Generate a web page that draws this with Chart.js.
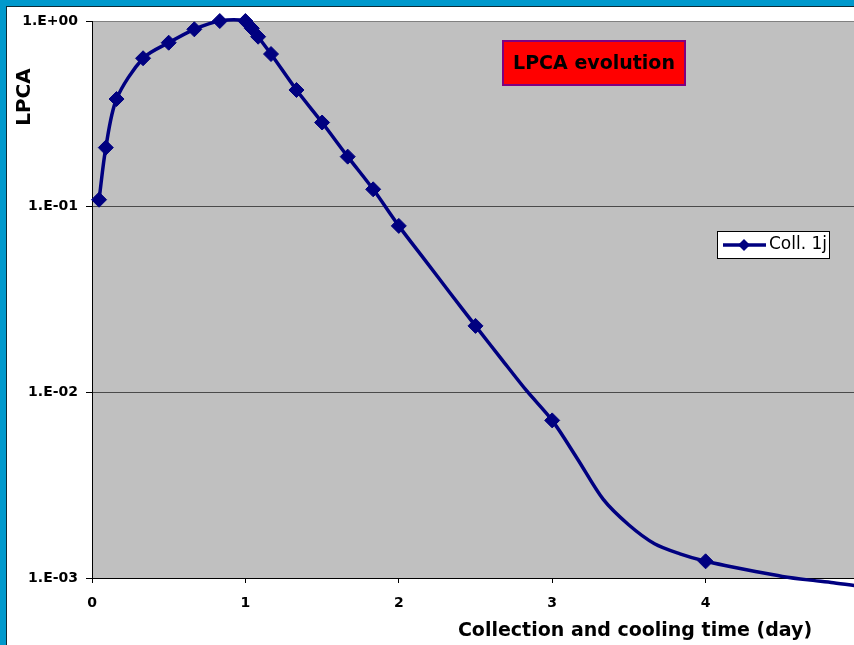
<!DOCTYPE html>
<html>
<head>
<meta charset="utf-8">
<title>LPCA evolution</title>
<script src="https://cdn.jsdelivr.net/npm/chart.js@4/dist/chart.umd.min.js"></script>
<style>
  html, body { margin: 0; padding: 0; }
  body { width: 854px; height: 645px; overflow: hidden; background: #0099cc; position: relative; }
  #sheet { position: absolute; left: 6px; top: 6px; width: 900px; height: 700px; background: #ffffff;
           border-left: 1px solid #0b2b36; border-top: 1px solid #0b2b36; }
  #chart { position: absolute; left: 0; top: 0; }
</style>
</head>
<body>
<div id="sheet"></div>
<canvas id="chart" width="880" height="645"></canvas>
<script>
// Collection and cooling time (days) and the LPCA level at each time
const timeDays = [0.046, 0.09, 0.16, 0.333, 0.5, 0.667, 0.833, 1.0, 1.042, 1.083, 1.167, 1.333,
  1.5, 1.667, 1.833, 2.0, 2.167, 2.333, 2.5, 2.667, 2.833, 3.0, 3.167, 3.333, 3.5, 3.667,
  3.833, 4.0, 4.167, 4.333, 4.5, 4.667, 4.833, 5.0];
const lpcaValues = [0.109, 0.208, 0.380, 0.630, 0.764, 0.902, 1.0, 1.0, 0.913, 0.823, 0.664, 0.425,
  0.284, 0.186, 0.124, 0.0788, 0.0520, 0.0344, 0.0228, 0.0152, 0.0102, 0.00706, 0.00435, 0.00265,
  0.00193, 0.00153, 0.00135, 0.00123, 0.00115, 0.00108, 0.00102, 0.000977, 0.000944, 0.000904];
// Times that carry a sample marker on the curve
const sampleDays = [0.046, 0.09, 0.16, 0.333, 0.5, 0.667, 0.833, 1.0, 1.042, 1.083, 1.167, 1.333,
  1.5, 1.667, 1.833, 2.0, 2.5, 3.0, 4.0];

const yTickValues = [0.001, 0.01, 0.1, 1];
const yTickLabels = ['1.E-03', '1.E-02', '1.E-01', '1.E+00'];
const xTickValues = [0, 1, 2, 3, 4, 5];

const seriesName = 'Coll. 1j';
const chartTitle = 'LPCA evolution';
const xTitle = 'Collection and cooling time (day)';
const yTitle = 'LPCA';

const NAVY = '#000080';
const tickFont = { family: 'DejaVu Sans', size: 14, weight: 'bold' };

const points = timeDays.map((t, i) => ({ x: t, y: lpcaValues[i] }));

// Grey plot background
const plotBackground = {
  id: 'plotBackground',
  beforeDraw(chart) {
    const { ctx, chartArea: a } = chart;
    ctx.save();
    ctx.fillStyle = '#c0c0c0';
    ctx.fillRect(a.left, a.top, a.right - a.left, a.bottom - a.top);
    ctx.restore();
  }
};

// Axis titles, the boxed chart title and the legend box
const decorations = {
  id: 'decorations',
  afterDraw(chart) {
    const { ctx } = chart;
    ctx.save();

    // y axis title
    ctx.fillStyle = '#000';
    ctx.font = 'bold 20px "DejaVu Sans"';
    ctx.textAlign = 'center';
    ctx.textBaseline = 'middle';
    ctx.save();
    ctx.translate(25, 97);
    ctx.rotate(-Math.PI / 2);
    ctx.fillText(yTitle, 0, 0);
    ctx.restore();

    // x axis title
    ctx.font = 'bold 19px "DejaVu Sans"';
    ctx.fillText(xTitle, 635, 631);

    // boxed title
    ctx.fillStyle = '#ff0000';
    ctx.fillRect(503, 41, 182, 44);
    ctx.strokeStyle = '#800080';
    ctx.lineWidth = 2;
    ctx.strokeRect(503, 41, 182, 44);
    ctx.fillStyle = '#000';
    ctx.font = 'bold 19px "DejaVu Sans"';
    ctx.fillText(chartTitle, 594, 64);

    // legend
    ctx.fillStyle = '#ffffff';
    ctx.fillRect(717.5, 231.5, 112, 27);
    ctx.strokeStyle = '#000';
    ctx.lineWidth = 1;
    ctx.strokeRect(717.5, 231.5, 112, 27);
    ctx.strokeStyle = NAVY;
    ctx.lineWidth = 3.5;
    ctx.beginPath();
    ctx.moveTo(723, 245);
    ctx.lineTo(766, 245);
    ctx.stroke();
    ctx.fillStyle = NAVY;
    ctx.beginPath();
    ctx.moveTo(744, 239);
    ctx.lineTo(750, 245);
    ctx.lineTo(744, 251);
    ctx.lineTo(738, 245);
    ctx.closePath();
    ctx.fill();
    ctx.fillStyle = '#000';
    ctx.font = '17px "DejaVu Sans"';
    ctx.textAlign = 'left';
    ctx.textBaseline = 'middle';
    ctx.fillText(seriesName, 769, 245);

    ctx.restore();
  }
};

const isSample = (t) => sampleDays.some(s => Math.abs(s - t) < 1e-9);

new Chart(document.getElementById('chart'), {
  type: 'line',
  data: {
    datasets: [{
      label: seriesName,
      data: points,
      borderColor: NAVY,
      backgroundColor: NAVY,
      borderWidth: 3.5,
      tension: 0.3,
      capBezierPoints: false,
      clip: false,
      pointStyle: 'rectRot',
      pointRadius: (ctx) => isSample(timeDays[ctx.dataIndex]) ? 7.5 : 0,
      pointHoverRadius: (ctx) => isSample(timeDays[ctx.dataIndex]) ? 7.5 : 0,
      pointBorderWidth: 1,
      pointBorderColor: NAVY,
      pointBackgroundColor: NAVY
    }]
  },
  options: {
    responsive: false,
    animation: false,
    events: [],
    layout: { padding: { left: 0, top: 21, right: 21, bottom: 0 } },
    plugins: { legend: { display: false }, title: { display: false }, tooltip: { enabled: false } },
    scales: {
      x: {
        type: 'linear',
        min: 0,
        max: 5,
        afterBuildTicks: (scale) => { scale.ticks = xTickValues.map(v => ({ value: v })); },
        afterFit: (scale) => { scale.height = 67; },
        ticks: { color: '#000', font: tickFont, padding: 12, maxRotation: 0, autoSkip: false },
        grid: { drawOnChartArea: false, drawTicks: true, tickLength: 5, tickColor: '#000' },
        border: { color: '#000', width: 1 }
      },
      y: {
        type: 'logarithmic',
        min: 0.001,
        max: 1,
        afterBuildTicks: (scale) => { scale.ticks = yTickValues.map(v => ({ value: v })); },
        afterFit: (scale) => { scale.width = 92; },
        ticks: {
          color: '#000', font: tickFont, padding: 8, autoSkip: false,
          callback: (value, index) => yTickLabels[index]
        },
        grid: {
          color: (ctx) => (ctx.tick && ctx.tick.value === 1) ? '#808080' : '#4a4a4a',
          lineWidth: 1,
          drawTicks: true,
          tickLength: 6,
          tickColor: '#000'
        },
        border: { color: '#000', width: 1 }
      }
    }
  },
  plugins: [plotBackground, decorations]
});
</script>
</body>
</html>
